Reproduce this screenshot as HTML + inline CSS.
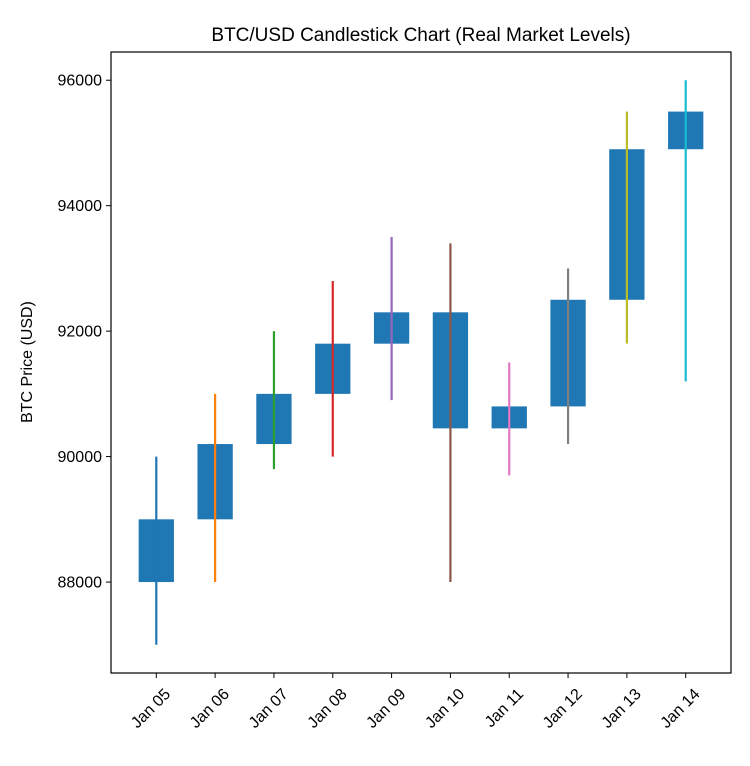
<!DOCTYPE html>
<html><head><meta charset="utf-8"><style>
body{margin:0;background:#fff}
svg text{font-family:"Liberation Sans","DejaVu Sans",sans-serif;fill:#000}
</style></head><body>
<svg id="chart" width="750" height="761" xmlns="http://www.w3.org/2000/svg">
<rect width="750" height="761" fill="#fff"/>
<g id="plot"></g>
<rect x="111" y="52" width="620" height="621" fill="none" stroke="#000" stroke-width="1.2"/>
<text x="421" y="41" text-anchor="middle" font-size="19">BTC/USD Candlestick Chart (Real Market Levels)</text>
<text transform="translate(32,362) rotate(-90)" text-anchor="middle" font-size="16">BTC Price (USD)</text>
</svg>
<script>
const categories=["Jan 05","Jan 06","Jan 07","Jan 08","Jan 09","Jan 10","Jan 11","Jan 12","Jan 13","Jan 14"];
const opens=[88000,89000,90200,91000,91800,92300,90800,90800,92500,94900];
const closes=[89000,90200,91000,91800,92300,90450,90450,92500,94900,95500];
const highs=[90000,91000,92000,92800,93500,93400,91500,93000,95500,96000];
const lows=[87000,88000,89800,90000,90900,88000,89700,90200,91800,91200];
const yTicks=[88000,90000,92000,94000,96000];
const colors=["#1f77b4","#ff7f0e","#2ca02c","#d62728","#9467bd","#8c564b","#e377c2","#7f7f7f","#bcbd22","#17becf"];
const NS="http://www.w3.org/2000/svg";
const L=111,R=731,T=52,B=673;
const ymin=Math.min(...lows),ymax=Math.max(...highs),pad=(ymax-ymin)*0.05;
const y0=ymin-pad,y1=ymax+pad;
const n=categories.length,xpad=0.77;
function xs(i){return L+(i+xpad)/(n-1+2*xpad)*(R-L);}
function ys(v){return B-(v-y0)/(y1-y0)*(B-T);}
const g=document.getElementById('plot');
function mk(t,a){const e=document.createElementNS(NS,t);for(const k in a)e.setAttribute(k,a[k]);g.appendChild(e);return e;}
const bw=(xs(1)-xs(0))*0.6;
for(let i=0;i<n;i++){
 const x=xs(i),lo=Math.min(opens[i],closes[i]),hi=Math.max(opens[i],closes[i]);
 const r=mk('rect',{x:x-bw/2,y:ys(hi),width:bw,height:ys(lo)-ys(hi),fill:'#1f77b4'});
 
 
}
for(let i=0;i<n;i++){
 const x=xs(i);
 const l=mk('line',{x1:x,x2:x,y1:ys(highs[i]),y2:ys(lows[i]),stroke:colors[i],'stroke-width':2.2});
 
 
 mk('line',{x1:x,x2:x,y1:B,y2:B+5,stroke:'#000','stroke-width':1});
 const t=mk('text',{x:0,y:0,'font-size':16,'text-anchor':'end',transform:`translate(${x+15},${B+22}) rotate(-45)`});
 t.textContent=categories[i];
 
 
}
yTicks.forEach(v=>{
 const y=ys(v);
 mk('line',{x1:L-5,x2:L,y1:y,y2:y,stroke:'#000','stroke-width':1});
 const t=mk('text',{x:L-9,y:y+5.5,'font-size':16,'text-anchor':'end'});
 t.textContent=v;
 
 
});
</script>
</body></html>
